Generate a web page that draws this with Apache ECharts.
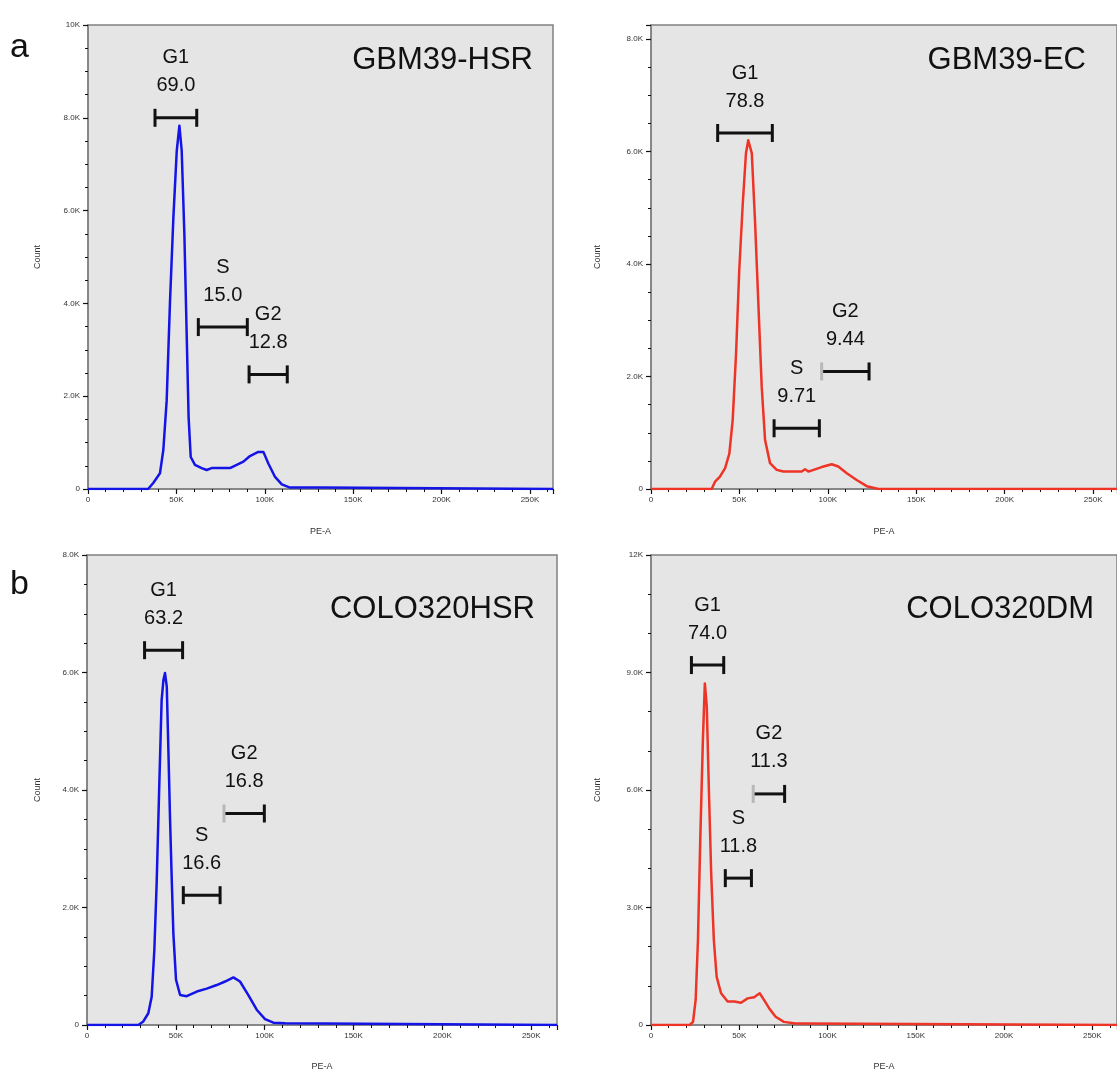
<!DOCTYPE html>
<html>
<head>
<meta charset="utf-8">
<title>Cell cycle profiles</title>
<script src="https://cdn.jsdelivr.net/npm/echarts@6/dist/echarts.min.js"></script>
<style>
    html, body { margin: 0; padding: 0; background: #fff; }
    #main { width: 1117px; height: 1074px; }
</style>
</head>
<body>
<div id="main"></div>
<script>
// GBM39-HSR 直方图 (PE-A, Count)
var gbm39HsrPe = [0, 34000, 36900, 40700, 42600, 44500, 46400, 48300, 50200, 51700, 53000, 54500, 55800, 56900, 58100, 60500, 64300, 67100, 69900, 80300, 84100, 87900, 91600, 96300, 99200, 102000, 105800, 109600, 114300, 132200, 132600, 263000];
var gbm39HsrCount = [0, 0, 130, 340, 840, 1910, 4060, 5860, 7290, 7830, 7290, 5500, 3350, 1550, 690, 520, 450, 410, 450, 450, 520, 590, 710, 800, 800, 550, 260, 100, 30, 30, 0, 0];

// GBM39-EC
var gbm39EcPe = [0, 34300, 36200, 39000, 41900, 44300, 46200, 48100, 49900, 51900, 53700, 55000, 57000, 58800, 60700, 62600, 64500, 67300, 71100, 74800, 85200, 87100, 89000, 92800, 96500, 102200, 105900, 110700, 116300, 122000, 128600, 263500];
var gbm39EcCount = [0, 0, 130, 220, 370, 630, 1230, 2410, 3890, 5080, 5970, 6200, 5970, 4780, 3300, 1820, 870, 460, 340, 310, 310, 350, 310, 350, 390, 440, 400, 280, 160, 50, 0, 0];

// COLO320HSR
var colo320HsrPe = [0, 28900, 31700, 34500, 36400, 37900, 39200, 40700, 42000, 43000, 43900, 44900, 45800, 46700, 47700, 48600, 50100, 52400, 56100, 61800, 67400, 73000, 77700, 82400, 86100, 90800, 95500, 100200, 104900, 111500, 112000, 264500];
var colo320HsrCount = [0, 0, 60, 200, 480, 1280, 2410, 4110, 5530, 5870, 5990, 5760, 4680, 3550, 2470, 1560, 770, 510, 490, 570, 620, 680, 740, 810, 740, 510, 260, 100, 40, 30, 0, 0];

// COLO320DM
var colo320DmPe = [0, 21900, 23800, 25300, 26600, 27900, 29400, 30500, 31600, 32800, 34100, 35600, 37200, 39700, 43400, 47200, 48100, 51000, 54700, 58400, 61600, 64000, 66900, 70600, 75300, 81900, 87500, 88000, 264000];
var colo320DmCount = [0, 0, 80, 640, 2170, 4720, 7280, 8720, 8130, 6000, 3870, 2170, 1230, 810, 600, 600, 640, 570, 680, 710, 810, 640, 430, 210, 80, 40, 40, 0, 0];

// 门 : [名称, 起点, 终点, 高度, 百分比]
var gbm39HsrGates = [['G1', 37900, 61500, 8000, '69.0'], ['S', 62400, 90100, 3490, '15.0'], ['G2', 91100, 112700, 2470, '12.8']];
var gbm39EcGates = [['G1', 37700, 68600, 6330, '78.8'], ['S', 69600, 95200, 1080, '9.71'], ['G2', 96500, 123300, 2090, '9.44']];
var colo320HsrGates = [['G1', 32400, 53800, 6380, '63.2'], ['S', 54200, 74900, 2210, '16.6'], ['G2', 77100, 99800, 3600, '16.8']];
var colo320DmGates = [['G1', 22900, 41200, 9190, '74.0'], ['S', 42100, 56900, 3750, '11.8'], ['G2', 57900, 75700, 5900, '11.3']];

var BLUE = '#1414e6';
var RED = '#ee3327';
var FONT = '"Liberation Sans", Arial, sans-serif';

var panels = [
    {title: 'GBM39-HSR', pe: gbm39HsrPe, count: gbm39HsrCount, gates: gbm39HsrGates, color: BLUE,
        grid: {left: 88, top: 25, width: 465, height: 464}, xMax: 263000, yMax: 10000, yStep: 2000, yMinor: 4,
        titleAt: [533, 60], countGap: 46, peGap: 38, greyCaps: []},
    {title: 'GBM39-EC', pe: gbm39EcPe, count: gbm39EcCount, gates: gbm39EcGates, color: RED,
        grid: {left: 651, top: 25, width: 466, height: 464}, xMax: 263500, yMax: 8250, yStep: 2000, yMinor: 4,
        titleAt: [1086, 60], countGap: 49, peGap: 38, greyCaps: ['G2']},
    {title: 'COLO320HSR', pe: colo320HsrPe, count: colo320HsrCount, gates: colo320HsrGates, color: BLUE,
        grid: {left: 87, top: 555, width: 470, height: 470}, xMax: 264500, yMax: 8000, yStep: 2000, yMinor: 4,
        titleAt: [535, 609], countGap: 45, peGap: 37, greyCaps: ['G2']},
    {title: 'COLO320DM', pe: colo320DmPe, count: colo320DmCount, gates: colo320DmGates, color: RED,
        grid: {left: 651, top: 555, width: 470, height: 470}, xMax: 264000, yMax: 12000, yStep: 3000, yMinor: 3,
        titleAt: [1094, 609], countGap: 49, peGap: 37, greyCaps: ['G2']}
];

var countLabel = function (v) {
    if (v === 0) return '0';
    if (v >= 10000) return (v / 1000) + 'K';
    return (v / 1000).toFixed(1) + 'K';
};

var peLabel = function (v) {
    return v === 0 ? '0' : (v / 1000) + 'K';
};

// 门的横线 + 端帽 + 文字
var renderGate = function (gates, greyCaps) {
    return function (params, api) {
        var gate = gates[params.dataIndex];
        var a = api.coord([api.value(0), api.value(2)]);
        var b = api.coord([api.value(1), api.value(2)]);
        var y = a[1];
        var cx = (a[0] + b[0]) / 2;
        var leftCap = greyCaps.indexOf(gate[0]) >= 0 ? '#b8b8b8' : '#111';
        var textStyle = function (t) {
            return {text: t, fill: '#111', font: '20px ' + FONT, align: 'center', verticalAlign: 'middle'};
        };
        return {
            type: 'group',
            children: [
                {type: 'line', shape: {x1: a[0], y1: y, x2: b[0], y2: y}, style: {stroke: '#111', lineWidth: 3}},
                {type: 'line', shape: {x1: a[0], y1: y - 9, x2: a[0], y2: y + 9}, style: {stroke: leftCap, lineWidth: 3}},
                {type: 'line', shape: {x1: b[0], y1: y - 9, x2: b[0], y2: y + 9}, style: {stroke: '#111', lineWidth: 3}},
                {type: 'text', x: cx, y: y - 60, style: textStyle(gate[0])},
                {type: 'text', x: cx, y: y - 32, style: textStyle(gate[4])}
            ]
        };
    };
};

var grids = [], xAxes = [], yAxes = [], series = [], graphics = [];

panels.forEach(function (p, i) {
    grids.push({
        left: p.grid.left, top: p.grid.top, width: p.grid.width, height: p.grid.height,
        show: true, backgroundColor: '#e5e5e5', borderColor: '#808080', borderWidth: 1.5
    });
    xAxes.push({
        type: 'value', gridIndex: i, min: 0, max: p.xMax, interval: 50000,
        name: 'PE-A', nameLocation: 'middle', nameGap: p.peGap,
        nameTextStyle: {fontSize: 9, color: '#333', fontFamily: FONT},
        axisLine: {show: true, lineStyle: {color: '#808080', width: 1.5}},
        axisTick: {show: true, length: 5, lineStyle: {color: '#111', width: 1.2}},
        minorTick: {show: true, splitNumber: 5, length: 3, lineStyle: {color: '#111', width: 1}},
        splitLine: {show: false},
        axisLabel: {formatter: peLabel, fontSize: 8, color: '#333', fontFamily: FONT, margin: 7, showMaxLabel: false}
    });
    yAxes.push({
        type: 'value', gridIndex: i, min: 0, max: p.yMax, interval: p.yStep,
        name: 'Count', nameLocation: 'middle', nameGap: p.countGap,
        nameTextStyle: {fontSize: 9, color: '#333', fontFamily: FONT},
        axisLine: {show: true, lineStyle: {color: '#808080', width: 1.5}},
        axisTick: {show: true, length: 5, lineStyle: {color: '#111', width: 1.2}},
        minorTick: {show: true, splitNumber: p.yMinor, length: 3, lineStyle: {color: '#111', width: 1}},
        splitLine: {show: false},
        axisLabel: {formatter: countLabel, fontSize: 8, color: '#333', fontFamily: FONT, margin: 8,
            showMaxLabel: p.yMax % p.yStep === 0}
    });
    series.push({
        type: 'line', xAxisIndex: i, yAxisIndex: i,
        data: p.pe.map(function (x, k) { return [x, p.count[k]]; }),
        showSymbol: false,
        lineStyle: {color: p.color, width: 2.5, join: 'round'}, z: 3
    });
    series.push({
        type: 'custom', xAxisIndex: i, yAxisIndex: i,
        data: p.gates.map(function (g) { return [g[1], g[2], g[3]]; }),
        encode: {x: [0, 1], y: 2},
        renderItem: renderGate(p.gates, p.greyCaps),
        clip: false, z: 4
    });
    graphics.push({
        type: 'text', x: p.titleAt[0], y: p.titleAt[1], z: 10,
        style: {text: p.title, fill: '#111', font: '31px ' + FONT, align: 'right', verticalAlign: 'middle'}
    });
});

graphics.push({type: 'text', x: 10, y: 31, style: {text: 'a', fill: '#111', font: '34px ' + FONT, verticalAlign: 'alphabetic'}});
graphics.push({type: 'text', x: 10, y: 568, style: {text: 'b', fill: '#111', font: '34px ' + FONT, verticalAlign: 'alphabetic'}});

var chart = echarts.init(document.getElementById('main'));
chart.setOption({
    animation: false,
    backgroundColor: '#fff',
    grid: grids,
    xAxis: xAxes,
    yAxis: yAxes,
    series: series,
    graphic: graphics
});
</script>
</body>
</html>
